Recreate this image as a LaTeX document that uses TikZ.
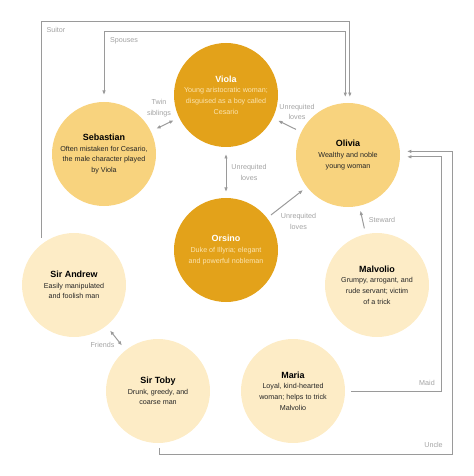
\documentclass[tikz,border=0pt]{standalone}
\usepackage{fontspec}
\setmainfont{Liberation Sans}
\usepackage{xcolor}
\usetikzlibrary{arrows.meta}
\definecolor{darkgold}{HTML}{E3A21A}
\definecolor{midgold}{HTML}{F8D37E}
\definecolor{palegold}{HTML}{FDECC6}
\definecolor{cream}{HTML}{FBE3AE}
\definecolor{linegray}{HTML}{9A9A9A}
\definecolor{labelgray}{HTML}{A3A3A3}
\newcommand{\who}[2][.]{{\fontsize{9}{11}\selectfont\bfseries\color{#1}#2}}

\begin{document}
\begin{tikzpicture}[x=1bp, y=-1bp,
    person/.style={circle, minimum size=104bp, inner sep=0pt, outer sep=0pt, align=center, font=\fontsize{7.2}{10.6}\selectfont, text=black!85},
    lead/.style={person, fill=darkgold, text=cream},
    major/.style={person, fill=midgold},
    minor/.style={person, fill=palegold},
    tag/.style={align=center, inner sep=0pt, text=labelgray, font=\fontsize{7.2}{10.4}\selectfont},
    arrow/.style={->, line width=1bp, draw=linegray, >={Latex[length=4.5bp, width=3.6bp]}},
    both/.style={arrow, <->}
]
    \useasboundingbox (0,0) rectangle (474,476);

    % Leads
    \node[lead] (viola) at (226,95) {\who[white]{Viola}\\Young aristocratic woman;\\disguised as a boy called\\Cesario};
    \node[lead] (orsino) at (226,250) {\who[white]{Orsino}\\Duke of Illyria; elegant\\and powerful nobleman};

    % Lovers
    \node[major] (sebastian) at (104,154) {\who[black]{Sebastian}\\Often mistaken for Cesario,\\the male character played\\by Viola};
    \node[major] (olivia) at (348,155) {\who[black]{Olivia}\\Wealthy and noble\\young woman};

    % Household
    \node[minor] (andrew) at (74,285) {\who[black]{Sir Andrew}\\Easily manipulated\\and foolish man};
    \node[minor] (malvolio) at (377,285) {\who[black]{Malvolio}\\Grumpy, arrogant, and\\rude servant; victim\\of a trick};
    \node[minor] (toby) at (158,391) {\who[black]{Sir Toby}\\Drunk, greedy, and\\coarse man};
    \node[minor] (maria) at (293,391) {\who[black]{Maria}\\Loyal, kind-hearted\\woman; helps to trick\\Malvolio};

    % Corners of the long links
    \coordinate (suitortop) at (0,22);
    \coordinate (spousetop) at (0,32);
    \coordinate (maidside) at (441,0);
    \coordinate (uncleside) at (452,454);

    % Short links
    \draw[both, shorten <=6bp, shorten >=6bp] (sebastian) -- (viola);
    \draw[arrow, shorten <=6bp, shorten >=6bp] (olivia) -- (viola);
    \draw[both, shorten <=7bp, shorten >=6bp] (viola) -- (orsino);
    \draw[arrow, shorten <=5bp, shorten >=5bp] (orsino) -- (olivia);
    \draw[arrow, shorten <=6bp, shorten >=5bp] (malvolio) -- (olivia);
    \draw[both, shorten <=6bp, shorten >=6bp] (andrew) -- (toby);

    % Long links
    \draw[arrow, shorten <=7bp, shorten >=6bp] (andrew.129) |- (suitortop -| olivia.88) -- (olivia.88);
    \draw[both, shorten <=6bp, shorten >=7bp] (olivia.93) |- (spousetop -| sebastian.north) -- (sebastian.north);
    \draw[arrow, shorten <=6bp, shorten >=7bp] (maria.east) -| (maidside |- olivia.-2) -- (olivia.-2);
    \draw[arrow, shorten <=5bp, shorten >=7bp] (toby.-88) |- (uncleside) -- (uncleside |- olivia.4) -- (olivia.4);

    % Labels
    \node[tag] (suitor) at (56,30) {Suitor};
    \node[tag] (spouses) at (124,41) {Spouses};
    \node[tag] (twins) at (159,108) {Twin\\siblings};
    \node[tag] (unreq1) at (297,112) {Unrequited\\loves};
    \node[tag] (unreq2) at (249,172.5) {Unrequited\\loves};
    \node[tag] (unreq3) at (298.5,221.5) {Unrequited\\loves};
    \node[tag] (steward) at (382,220) {Steward};
    \node[tag] (friends) at (102.5,345) {Friends};
    \node[tag] (maid) at (427,383) {Maid};
    \node[tag] (uncle) at (433.5,445) {Uncle};
\end{tikzpicture}
\end{document}
